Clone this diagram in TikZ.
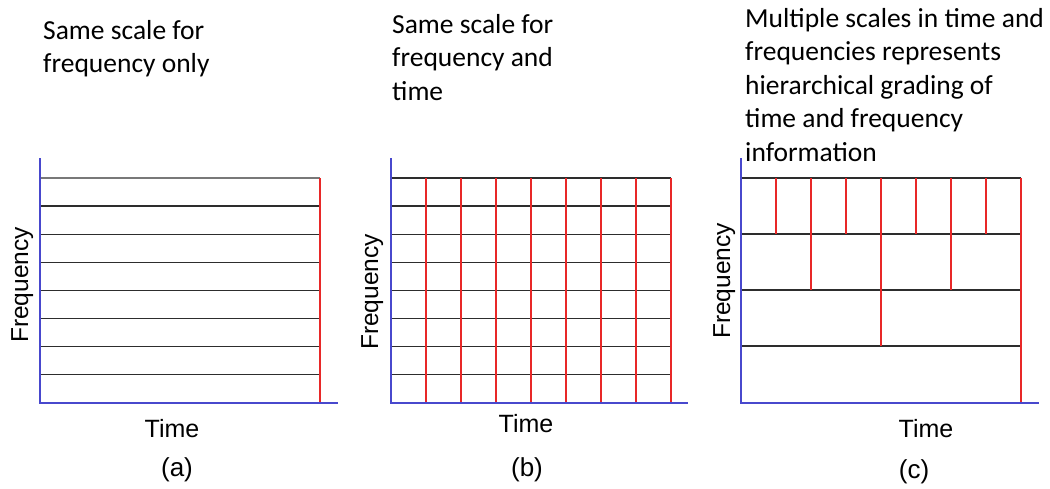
\documentclass[tikz,border=0pt]{standalone}
\usepackage{fontspec}
\setmainfont{Carlito}
\newfontfamily\arialf{Liberation Sans}
\definecolor{axisblue}{RGB}{72,72,205}
\definecolor{gridred}{RGB}{232,40,40}
\definecolor{gridblack}{RGB}{45,45,45}
\definecolor{gridgray}{RGB}{120,120,120}
\begin{document}
\begin{tikzpicture}[x=1pt,y=-1pt,
  title/.style={anchor=base west, inner sep=0pt, font=\fontsize{27.5}{33.5}\selectfont},
  flabel/.style={rotate=90, anchor=base, inner sep=0pt, font=\arialf\fontsize{24.5}{28}\selectfont},
  tlabel/.style={anchor=base, inner sep=0pt, font=\arialf\fontsize{25}{28}\selectfont},
  plabel/.style={anchor=center, inner sep=0pt, font=\arialf\fontsize{26}{30}\selectfont},
  hline/.style={draw=gridblack, line width=1.3pt},
  vline/.style={draw=gridred, line width=1.3pt},
  axis/.style={draw=axisblue, line width=1.6pt}]
\useasboundingbox (0,0) rectangle (1050,488);

% titles
\node[title] (ta) at (43,39) {\begin{tabular}[t]{@{}l@{}}Same scale for\\frequency only\end{tabular}};
\node[title] (tb) at (392,33) {\begin{tabular}[t]{@{}l@{}}Same scale for\\frequency and\\time\end{tabular}};
\node[title] (tc) at (745,27) {\begin{tabular}[t]{@{}l@{}}Multiple scales in time and\\frequencies represents\\hierarchical grading of\\time and frequency\\information\end{tabular}};

% panel (a)
\draw[draw=gridgray, line width=1.3pt] (40,178) -- (320,178);
\foreach \i in {1,...,7} \draw[hline] (40,178+\i*28.1) -- (320,178+\i*28.1);
\draw[vline] (320,178) -- (320,403);
\draw[axis] (40,158) -- (40,403) -- (338,403);

% panel (b)
\foreach \i in {0,...,7} \draw[hline] (391,178+\i*28.1) -- (671,178+\i*28.1);
\foreach \k in {1,...,8} \draw[vline] (391+\k*35,178) -- (391+\k*35,403);
\draw[axis] (391,158) -- (391,403) -- (688,403);

% panel (c)
\foreach \y in {178,234,290,346} \draw[hline] (741,\y) -- (1021,\y);
\foreach \k in {1,3,5,7} \draw[vline] (741+\k*35,178) -- (741+\k*35,234);
\foreach \k in {2,6} \draw[vline] (741+\k*35,178) -- (741+\k*35,290);
\draw[vline] (881,178) -- (881,346);
\draw[vline] (1021,178) -- (1021,403);
\draw[axis] (741,158) -- (741,403) -- (1039,403);

% axis labels
\node[flabel] (fa) at (28,285) {Frequency};
\node[flabel] (fb) at (378,292) {Frequency};
\node[flabel] (fc) at (730,281) {Frequency};
\node[tlabel] (tma) at (172,437) {Time};
\node[tlabel] (tmb) at (526,432) {Time};
\node[tlabel] (tmc) at (926,437) {Time};
\node[plabel] (pa) at (177,470) {(a)};
\node[plabel] (pb) at (527,470) {(b)};
\node[plabel] (pc) at (914,472) {(c)};
\end{tikzpicture}
\end{document}
